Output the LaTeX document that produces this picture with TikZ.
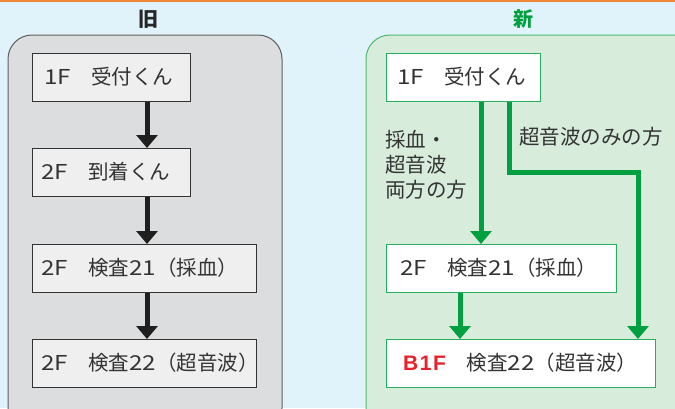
\documentclass[tikz,border=0pt]{standalone}
\usepackage{fontspec}
\setmainfont{Noto Sans CJK JP}
\newfontfamily\latinbold{Liberation Sans}
\newfontfamily\lat{Noto Sans CJK JP}[FakeStretch=1.18]
\usetikzlibrary{arrows.meta}
\definecolor{bgblue}{HTML}{E0F3FA}
\definecolor{orangeline}{HTML}{F08538}
\definecolor{oldfill}{HTML}{DCDDDF}
\definecolor{oldborder}{HTML}{5E5E5E}
\definecolor{oldbox}{HTML}{EFEFEF}
\definecolor{newfill}{HTML}{D7ECDB}
\definecolor{newborder}{HTML}{4DB86E}
\definecolor{flowgreen}{HTML}{00A040}
\definecolor{txtgray}{HTML}{333333}
\definecolor{redtxt}{HTML}{E8202A}
\newcommand{\lt}[1]{{\lat #1}}
\tikzset{
  x=1bp, y=-1bp,
  panel/.style={rounded corners=24bp, line width=1bp},
  oldbx/.style={draw=txtgray, fill=oldbox, line width=0.9bp, inner sep=0pt, anchor=north west},
  newbx/.style={draw=flowgreen!85!white, fill=white, line width=1bp, inner sep=0pt, anchor=north west},
  txt/.style={font=\fontsize{20.5bp}{25bp}\selectfont, text=txtgray, inner sep=0pt},
  ttl/.style={font=\fontsize{20bp}{25bp}\selectfont\bfseries, inner sep=0pt},
  blackarrow/.style={line width=5bp, draw=black!88, -{Triangle[width=21bp,length=13bp]}},
  greenarrow/.style={line width=5bp, draw=flowgreen, -{Triangle[width=21bp,length=13bp]}},
  greenline/.style={line width=5bp, draw=flowgreen},
}
\begin{document}
\begin{tikzpicture}
\fill[bgblue] (0,0) rectangle (675,408);
\useasboundingbox (0,0) rectangle (675,408);
\fill[orangeline] (0,0) rectangle (675,1.5);
% titles
\node[ttl, text=black!85] (toldt) at (148,19) {旧};
\node[ttl, text=flowgreen] (tnewt) at (523,19) {新};
% panels
\draw[panel, draw=oldborder, fill=oldfill] (8,35) rectangle (282,432);
\draw[panel, draw=newborder, fill=newfill] (366,35) rectangle (699,432);
% old boxes
\node[oldbx, minimum width=158bp, minimum height=48bp] (o1) at (32,53) {};
\node[txt, anchor=west] (o1t) at (44,77) {\lt{1F}　受付くん};
\node[oldbx, minimum width=158bp, minimum height=48bp] (o2) at (32,148) {};
\node[txt, anchor=west] (o2t) at (41,172) {\lt{2F}　到着くん};
\node[oldbx, minimum width=224bp, minimum height=48bp] (o3) at (32,244) {};
\node[txt, anchor=west] (o3t) at (41,268) {\lt{2F}　検査\lt{21}（採血）};
\node[oldbx, minimum width=224bp, minimum height=48bp] (o4) at (32,339) {};
\node[txt, anchor=west] (o4t) at (41,363) {\lt{2F}　検査\lt{22}（超音波）};
\draw[blackarrow] (o1.south -| 147,0) -- (o2.north -| 147,0);
\draw[blackarrow] (o2.south -| 147,0) -- (o3.north -| 147,0);
\draw[blackarrow] (o3.south -| 147,0) -- (o4.north -| 147,0);
% new boxes
\node[newbx, minimum width=154bp, minimum height=48bp] (n1) at (386,53) {};
\node[txt, anchor=west] (n1t) at (397,77) {\lt{1F}　受付くん};
\node[newbx, minimum width=230bp, minimum height=48bp] (n2) at (386,244) {};
\node[txt, anchor=west] (n2t) at (400,268) {\lt{2F}　検査\lt{21}（採血）};
\node[newbx, minimum width=269bp, minimum height=48bp] (n3) at (386,339) {};
\node[txt, anchor=west] (n3t) at (403,363) {{\latinbold\bfseries\fontsize{21bp}{25bp}\selectfont\textcolor{redtxt}{B\kern1.5bp 1\kern1.5bp F}}\hspace{21bp}検査\lt{22}（超音波）};
% connectors
\draw[greenarrow] (n1.south -| 481,0) -- (n2.north -| 481,0);
\coordinate (c0) at (509,172);
\coordinate (c1) at (638,172);
\draw[greenarrow] (n1.south -| 509,0) -- (c0) -- (c1) -- (n3.north -| 638,0);
\draw[greenarrow] (n2.south -| 460,0) -- (n3.north -| 460,0);
% labels
\node[txt, anchor=north west, align=left] (lab1) at (385,130) {採血・\\超音波\\両方の方};
\node[txt, anchor=west] (lab2) at (519,137) {超音波のみの方};
\end{tikzpicture}
\end{document}
